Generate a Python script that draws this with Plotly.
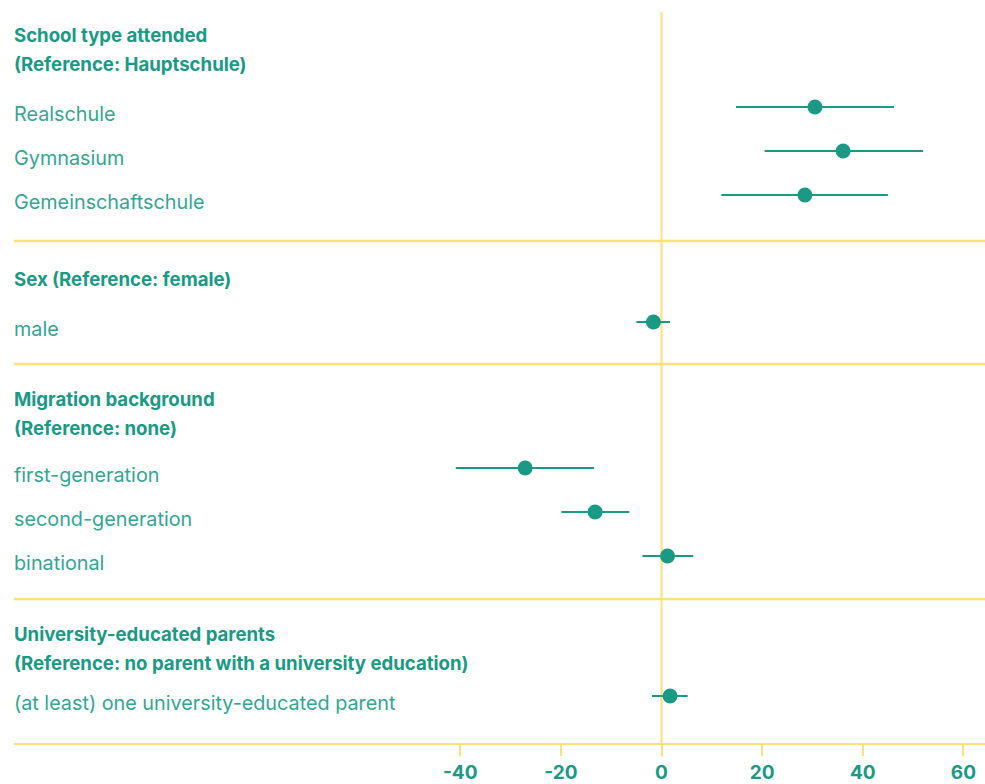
import plotly.graph_objects as go

# ---- data ----
group_headers = [
    ["School type attended", "(Reference: Hauptschule)"],
    ["Sex (Reference: female)"],
    ["Migration background", "(Reference: none)"],
    ["University-educated parents", "(Reference: no parent with a university education)"],
]
group_items = [
    ["Realschule", "Gymnasium", "Gemeinschaftschule"],
    ["male"],
    ["first-generation", "second-generation", "binational"],
    ["(at least) one university-educated parent"],
]
estimates = [[30.5, 36.1, 28.5], [-1.6], [-27.1, -13.2, 1.2], [1.7]]
ci_low = [[14.8, 20.5, 11.9], [-5.0], [-40.9, -19.9, -3.8], [-1.9]]
ci_high = [[46.2, 52.0, 45.0], [1.7], [-13.4, -6.4, 6.3], [5.2]]
x_ticks = [-40, -20, 0, 20, 40, 60]

# ---- style ----
TEAL = "#1a9985"
TEAL_LABEL = "#34a593"
YELLOW = "#ffe07a"
FONT = "Inter"

# ---- vertical layout (row space, pixels from top) ----
HEADER_TOP = 35
HEADER_STEP = 29
ITEM_STEP = 44
HEADER_TO_ITEM = [43, 43, 40, 33]
ITEM_TO_SEP = [46, 42, 43, 47]
SEP_TO_HEADER = [38, 35, 35]
TEXT_OFFSET = 7

fig = go.Figure()
annotations = []
shapes = []
y = HEADER_TOP
xs, ys, em, ep = [], [], [], []
for gi, (hdr, items) in enumerate(zip(group_headers, group_items)):
    for li, line in enumerate(hdr):
        annotations.append(dict(x=0, xref="paper", xanchor="left", xshift=-2, y=y, yref="y",
                                text=line, showarrow=False,
                                font=dict(family=FONT, size=18.6, color=TEAL, weight="bold")))
        if li < len(hdr) - 1:
            y += HEADER_STEP
    y += HEADER_TO_ITEM[gi]
    for ii, item in enumerate(items):
        annotations.append(dict(x=0, xref="paper", xanchor="left", xshift=-2, y=y + TEXT_OFFSET,
                                yref="y", text=item, showarrow=False,
                                font=dict(family=FONT, size=19.8, color=TEAL_LABEL)))
        e = estimates[gi][ii]
        xs.append(e)
        ys.append(y)
        em.append(e - ci_low[gi][ii])
        ep.append(ci_high[gi][ii] - e)
        if ii < len(items) - 1:
            y += ITEM_STEP
    y += ITEM_TO_SEP[gi]
    if gi < len(group_headers) - 1:
        shapes.append(dict(type="line", xref="paper", x0=0, x1=1, yref="y", y0=y, y1=y,
                           line=dict(color=YELLOW, width=2.5), layer="below"))
        y += SEP_TO_HEADER[gi]
bottom = y

# zero line
shapes.append(dict(type="line", xref="x", x0=0, x1=0, yref="paper", y0=0, y1=1,
                   line=dict(color=YELLOW, width=2), layer="below"))

fig.add_trace(go.Scatter(
    x=xs, y=ys, mode="markers",
    marker=dict(size=15, color=TEAL),
    error_x=dict(type="data", symmetric=False, array=ep, arrayminus=em,
                 color=TEAL, thickness=2, width=0),
    hoverinfo="x",
    showlegend=False,
))

fig.update_layout(
    width=985, height=784,
    margin=dict(l=14, r=0, t=12, b=784 - bottom, autoexpand=False),
    plot_bgcolor="white", paper_bgcolor="white",
    shapes=shapes, annotations=annotations,
    xaxis=dict(range=[-128.7, 64.3], tickvals=x_ticks, ticktext=[str(t) for t in x_ticks],
               showgrid=False, zeroline=False, showline=True, linecolor=YELLOW, linewidth=2,
               ticks="outside", ticklen=11, tickcolor=YELLOW, tickwidth=2, automargin=False,
               tickfont=dict(family=FONT, size=19, color=TEAL, weight="bold")),
    yaxis=dict(range=[bottom, 12], showgrid=False, zeroline=False, showticklabels=False,
               showline=False, fixedrange=True, automargin=False),
)

fig.write_html("out.html", config={"displayModeBar": False},
               post_script="document.body.style.margin='0';document.body.style.overflow='hidden';")
